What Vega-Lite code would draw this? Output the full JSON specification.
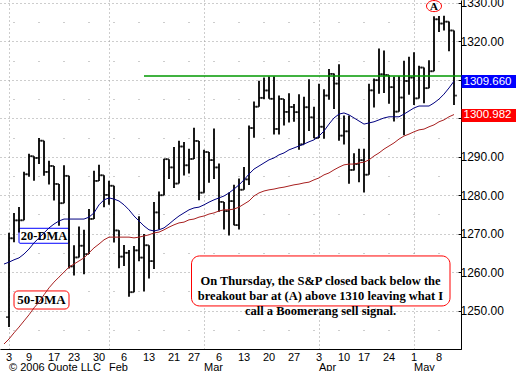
{
  "$schema": "https://vega.github.io/schema/vega-lite/v6.json",
  "autosize": {"type": "none"},
  "width": 461,
  "height": 349,
  "padding": {"left": 0, "top": 0, "right": 55, "bottom": 22},
  "background": "white",
  "config": {
    "view": {"stroke": null},
    "axis": {"labelFont": "Liberation Sans, Arial, sans-serif", "labelColor": "black", "title": null}
  },
  "datasets": {
    "px": [
      {"d":"2006-01-03","o":1248.29,"h":1270.22,"l":1245.74,"c":1268.80},
      {"d":"2006-01-04","o":1268.80,"h":1275.37,"l":1267.74,"c":1273.46},
      {"d":"2006-01-05","o":1273.46,"h":1276.91,"l":1270.30,"c":1273.48},
      {"d":"2006-01-06","o":1273.48,"h":1286.09,"l":1273.48,"c":1285.45},
      {"d":"2006-01-09","o":1285.45,"h":1290.78,"l":1284.82,"c":1290.15},
      {"d":"2006-01-10","o":1290.15,"h":1290.15,"l":1283.76,"c":1289.69},
      {"d":"2006-01-11","o":1289.69,"h":1294.90,"l":1288.12,"c":1294.18},
      {"d":"2006-01-12","o":1294.18,"h":1294.18,"l":1285.04,"c":1286.06},
      {"d":"2006-01-13","o":1286.06,"h":1288.96,"l":1282.78,"c":1287.61},
      {"d":"2006-01-17","o":1287.61,"h":1287.61,"l":1278.61,"c":1282.93},
      {"d":"2006-01-18","o":1282.93,"h":1282.93,"l":1272.08,"c":1277.93},
      {"d":"2006-01-19","o":1277.93,"h":1287.79,"l":1277.93,"c":1285.04},
      {"d":"2006-01-20","o":1285.04,"h":1285.04,"l":1260.92,"c":1261.49},
      {"d":"2006-01-23","o":1261.49,"h":1266.99,"l":1259.11,"c":1263.82},
      {"d":"2006-01-24","o":1263.82,"h":1271.87,"l":1263.82,"c":1266.86},
      {"d":"2006-01-25","o":1266.86,"h":1271.03,"l":1259.42,"c":1264.68},
      {"d":"2006-01-26","o":1264.68,"h":1276.44,"l":1264.68,"c":1273.83},
      {"d":"2006-01-27","o":1273.83,"h":1286.38,"l":1273.83,"c":1283.72},
      {"d":"2006-01-30","o":1283.72,"h":1287.90,"l":1283.72,"c":1285.19},
      {"d":"2006-01-31","o":1285.19,"h":1285.20,"l":1276.85,"c":1280.08},
      {"d":"2006-02-01","o":1280.08,"h":1283.75,"l":1277.53,"c":1282.46},
      {"d":"2006-02-02","o":1282.46,"h":1282.46,"l":1267.72,"c":1270.84},
      {"d":"2006-02-03","o":1270.84,"h":1270.87,"l":1261.02,"c":1264.03},
      {"d":"2006-02-06","o":1264.03,"h":1267.04,"l":1261.62,"c":1265.02},
      {"d":"2006-02-07","o":1265.02,"h":1265.78,"l":1253.61,"c":1254.78},
      {"d":"2006-02-08","o":1254.78,"h":1266.82,"l":1254.78,"c":1265.65},
      {"d":"2006-02-09","o":1265.65,"h":1274.56,"l":1262.80,"c":1263.78},
      {"d":"2006-02-10","o":1263.78,"h":1269.89,"l":1254.98,"c":1266.99},
      {"d":"2006-02-13","o":1266.99,"h":1266.99,"l":1258.34,"c":1262.86},
      {"d":"2006-02-14","o":1262.86,"h":1278.21,"l":1260.80,"c":1275.53},
      {"d":"2006-02-15","o":1275.53,"h":1281.00,"l":1271.06,"c":1280.00},
      {"d":"2006-02-16","o":1280.00,"h":1289.47,"l":1280.00,"c":1289.38},
      {"d":"2006-02-17","o":1289.38,"h":1289.38,"l":1284.21,"c":1287.24},
      {"d":"2006-02-21","o":1287.24,"h":1292.54,"l":1281.85,"c":1283.03},
      {"d":"2006-02-22","o":1283.03,"h":1294.17,"l":1283.03,"c":1292.67},
      {"d":"2006-02-23","o":1292.67,"h":1293.84,"l":1285.14,"c":1287.79},
      {"d":"2006-02-24","o":1287.79,"h":1292.11,"l":1285.62,"c":1289.43},
      {"d":"2006-02-27","o":1289.43,"h":1297.57,"l":1289.43,"c":1294.12},
      {"d":"2006-02-28","o":1294.12,"h":1294.12,"l":1278.66,"c":1280.66},
      {"d":"2006-03-01","o":1280.66,"h":1291.80,"l":1280.66,"c":1291.24},
      {"d":"2006-03-02","o":1291.24,"h":1291.24,"l":1283.22,"c":1289.14},
      {"d":"2006-03-03","o":1289.14,"h":1297.33,"l":1284.20,"c":1287.23},
      {"d":"2006-03-06","o":1287.23,"h":1288.22,"l":1275.67,"c":1278.26},
      {"d":"2006-03-07","o":1278.26,"h":1278.26,"l":1271.11,"c":1275.88},
      {"d":"2006-03-08","o":1275.88,"h":1280.68,"l":1269.54,"c":1278.47},
      {"d":"2006-03-09","o":1278.47,"h":1282.74,"l":1272.20,"c":1272.23},
      {"d":"2006-03-10","o":1272.23,"h":1284.37,"l":1271.11,"c":1281.42},
      {"d":"2006-03-13","o":1281.42,"h":1287.37,"l":1281.42,"c":1284.13},
      {"d":"2006-03-14","o":1284.13,"h":1298.14,"l":1282.67,"c":1297.48},
      {"d":"2006-03-15","o":1297.48,"h":1304.40,"l":1294.97,"c":1303.02},
      {"d":"2006-03-16","o":1303.02,"h":1309.79,"l":1303.02,"c":1305.33},
      {"d":"2006-03-17","o":1305.33,"h":1310.64,"l":1305.04,"c":1307.25},
      {"d":"2006-03-20","o":1307.25,"h":1310.88,"l":1305.08,"c":1305.08},
      {"d":"2006-03-21","o":1305.08,"h":1310.88,"l":1295.82,"c":1297.23},
      {"d":"2006-03-22","o":1297.23,"h":1305.97,"l":1295.81,"c":1305.04},
      {"d":"2006-03-23","o":1305.04,"h":1305.04,"l":1298.11,"c":1301.67},
      {"d":"2006-03-24","o":1301.67,"h":1306.53,"l":1298.89,"c":1302.95},
      {"d":"2006-03-27","o":1302.95,"h":1303.74,"l":1299.09,"c":1301.61},
      {"d":"2006-03-28","o":1301.61,"h":1306.24,"l":1291.84,"c":1293.23},
      {"d":"2006-03-29","o":1293.23,"h":1305.60,"l":1293.23,"c":1302.89},
      {"d":"2006-03-30","o":1302.89,"h":1310.15,"l":1296.72,"c":1300.25},
      {"d":"2006-03-31","o":1300.25,"h":1303.00,"l":1294.87,"c":1294.87},
      {"d":"2006-04-03","o":1294.87,"h":1309.02,"l":1294.87,"c":1297.81},
      {"d":"2006-04-04","o":1297.81,"h":1307.55,"l":1294.71,"c":1305.93},
      {"d":"2006-04-05","o":1305.93,"h":1312.81,"l":1304.82,"c":1311.56},
      {"d":"2006-04-06","o":1311.56,"h":1311.64,"l":1302.44,"c":1309.04},
      {"d":"2006-04-07","o":1309.04,"h":1314.07,"l":1294.18,"c":1295.50},
      {"d":"2006-04-10","o":1295.50,"h":1300.74,"l":1293.17,"c":1296.62},
      {"d":"2006-04-11","o":1296.62,"h":1300.71,"l":1282.96,"c":1286.57},
      {"d":"2006-04-12","o":1286.57,"h":1290.93,"l":1286.45,"c":1288.12},
      {"d":"2006-04-13","o":1288.12,"h":1292.09,"l":1283.37,"c":1289.12},
      {"d":"2006-04-17","o":1289.12,"h":1292.09,"l":1280.74,"c":1285.33},
      {"d":"2006-04-18","o":1285.33,"h":1309.02,"l":1285.33,"c":1307.28},
      {"d":"2006-04-19","o":1307.28,"h":1310.39,"l":1302.79,"c":1309.93},
      {"d":"2006-04-20","o":1309.93,"h":1318.16,"l":1306.38,"c":1311.46},
      {"d":"2006-04-21","o":1311.46,"h":1317.67,"l":1306.59,"c":1311.28},
      {"d":"2006-04-24","o":1311.28,"h":1311.28,"l":1303.79,"c":1308.11},
      {"d":"2006-04-25","o":1308.11,"h":1310.79,"l":1299.17,"c":1301.74},
      {"d":"2006-04-26","o":1301.74,"h":1310.97,"l":1301.74,"c":1305.41},
      {"d":"2006-04-27","o":1305.41,"h":1315.00,"l":1295.57,"c":1309.72},
      {"d":"2006-04-28","o":1309.72,"h":1316.04,"l":1306.16,"c":1310.61},
      {"d":"2006-05-01","o":1310.61,"h":1317.21,"l":1303.46,"c":1305.19},
      {"d":"2006-05-02","o":1305.19,"h":1313.66,"l":1305.19,"c":1313.21},
      {"d":"2006-05-03","o":1313.21,"h":1313.21,"l":1303.92,"c":1307.85},
      {"d":"2006-05-04","o":1307.85,"h":1315.14,"l":1307.85,"c":1312.25},
      {"d":"2006-05-05","o":1312.25,"h":1326.53,"l":1312.25,"c":1325.76},
      {"d":"2006-05-08","o":1325.76,"h":1326.60,"l":1322.48,"c":1324.66},
      {"d":"2006-05-09","o":1324.66,"h":1326.70,"l":1322.87,"c":1325.14},
      {"d":"2006-05-10","o":1325.14,"h":1325.18,"l":1317.44,"c":1322.85},
      {"d":"2006-05-11","o":1322.85,"h":1322.85,"l":1303.45,"c":1305.92}
    ],
    "ma": [
      {"d":"2005-12-30","a20":1262.1,"a50":1241.3},
      {"d":"2006-01-03","a20":1262.6,"a50":1242.6},
      {"d":"2006-01-04","a20":1263.2,"a50":1244.2},
      {"d":"2006-01-05","a20":1263.7,"a50":1245.7},
      {"d":"2006-01-06","a20":1264.7,"a50":1247.3},
      {"d":"2006-01-09","a20":1266.0,"a50":1248.9},
      {"d":"2006-01-10","a20":1267.6,"a50":1250.7},
      {"d":"2006-01-11","a20":1268.9,"a50":1252.2},
      {"d":"2006-01-12","a20":1270.2,"a50":1254.1},
      {"d":"2006-01-13","a20":1271.5,"a50":1255.9},
      {"d":"2006-01-17","a20":1272.5,"a50":1257.4},
      {"d":"2006-01-18","a20":1273.3,"a50":1258.7},
      {"d":"2006-01-19","a20":1273.8,"a50":1260.0},
      {"d":"2006-01-20","a20":1273.8,"a50":1261.3},
      {"d":"2006-01-23","a20":1273.8,"a50":1262.1},
      {"d":"2006-01-24","a20":1273.8,"a50":1262.9},
      {"d":"2006-01-25","a20":1273.8,"a50":1263.7},
      {"d":"2006-01-26","a20":1274.3,"a50":1265.0},
      {"d":"2006-01-27","a20":1275.4,"a50":1266.3},
      {"d":"2006-01-30","a20":1277.5,"a50":1267.3},
      {"d":"2006-01-31","a20":1278.8,"a50":1268.4},
      {"d":"2006-02-01","a20":1279.3,"a50":1269.1},
      {"d":"2006-02-02","a20":1279.0,"a50":1269.1},
      {"d":"2006-02-03","a20":1278.5,"a50":1269.1},
      {"d":"2006-02-06","a20":1277.5,"a50":1269.1},
      {"d":"2006-02-07","a20":1276.2,"a50":1269.1},
      {"d":"2006-02-08","a20":1274.6,"a50":1268.9},
      {"d":"2006-02-09","a20":1273.3,"a50":1269.1},
      {"d":"2006-02-10","a20":1272.0,"a50":1269.4},
      {"d":"2006-02-13","a20":1271.0,"a50":1269.7},
      {"d":"2006-02-14","a20":1270.7,"a50":1270.2},
      {"d":"2006-02-15","a20":1271.0,"a50":1270.4},
      {"d":"2006-02-16","a20":1271.5,"a50":1271.0},
      {"d":"2006-02-17","a20":1272.5,"a50":1271.7},
      {"d":"2006-02-21","a20":1273.6,"a50":1272.3},
      {"d":"2006-02-22","a20":1274.6,"a50":1272.8},
      {"d":"2006-02-23","a20":1275.4,"a50":1273.0},
      {"d":"2006-02-24","a20":1276.2,"a50":1273.6},
      {"d":"2006-02-27","a20":1276.7,"a50":1273.8},
      {"d":"2006-02-28","a20":1276.9,"a50":1274.3},
      {"d":"2006-03-01","a20":1277.5,"a50":1274.6},
      {"d":"2006-03-02","a20":1278.2,"a50":1275.1},
      {"d":"2006-03-03","a20":1278.8,"a50":1275.4},
      {"d":"2006-03-06","a20":1279.3,"a50":1275.9},
      {"d":"2006-03-07","a20":1279.8,"a50":1276.2},
      {"d":"2006-03-08","a20":1280.6,"a50":1276.2},
      {"d":"2006-03-09","a20":1281.6,"a50":1276.4},
      {"d":"2006-03-10","a20":1282.7,"a50":1276.9},
      {"d":"2006-03-13","a20":1284.0,"a50":1277.7},
      {"d":"2006-03-14","a20":1285.5,"a50":1278.5},
      {"d":"2006-03-15","a20":1286.8,"a50":1279.8},
      {"d":"2006-03-16","a20":1287.6,"a50":1280.6},
      {"d":"2006-03-17","a20":1288.4,"a50":1281.1},
      {"d":"2006-03-20","a20":1289.2,"a50":1281.4},
      {"d":"2006-03-21","a20":1289.7,"a50":1281.6},
      {"d":"2006-03-22","a20":1290.5,"a50":1281.9},
      {"d":"2006-03-23","a20":1291.0,"a50":1282.1},
      {"d":"2006-03-24","a20":1291.8,"a50":1282.4},
      {"d":"2006-03-27","a20":1292.3,"a50":1282.7},
      {"d":"2006-03-28","a20":1292.8,"a50":1282.9},
      {"d":"2006-03-29","a20":1293.3,"a50":1283.2},
      {"d":"2006-03-30","a20":1293.9,"a50":1283.4},
      {"d":"2006-03-31","a20":1294.4,"a50":1284.0},
      {"d":"2006-04-03","a20":1295.4,"a50":1284.5},
      {"d":"2006-04-04","a20":1296.7,"a50":1285.3},
      {"d":"2006-04-05","a20":1298.5,"a50":1285.8},
      {"d":"2006-04-06","a20":1300.1,"a50":1286.6},
      {"d":"2006-04-07","a20":1301.1,"a50":1287.3},
      {"d":"2006-04-10","a20":1301.4,"a50":1287.9},
      {"d":"2006-04-11","a20":1300.9,"a50":1288.1},
      {"d":"2006-04-12","a20":1300.1,"a50":1288.1},
      {"d":"2006-04-13","a20":1299.3,"a50":1288.4},
      {"d":"2006-04-17","a20":1298.5,"a50":1288.6},
      {"d":"2006-04-18","a20":1298.8,"a50":1289.2},
      {"d":"2006-04-19","a20":1299.1,"a50":1290.2},
      {"d":"2006-04-20","a20":1299.6,"a50":1291.0},
      {"d":"2006-04-21","a20":1300.1,"a50":1292.0},
      {"d":"2006-04-24","a20":1300.4,"a50":1292.8},
      {"d":"2006-04-25","a20":1300.4,"a50":1293.6},
      {"d":"2006-04-26","a20":1300.4,"a50":1294.6},
      {"d":"2006-04-27","a20":1301.1,"a50":1295.4},
      {"d":"2006-04-28","a20":1301.9,"a50":1295.9},
      {"d":"2006-05-01","a20":1302.7,"a50":1296.5},
      {"d":"2006-05-02","a20":1303.2,"a50":1297.0},
      {"d":"2006-05-03","a20":1303.2,"a50":1297.2},
      {"d":"2006-05-04","a20":1303.2,"a50":1297.8},
      {"d":"2006-05-05","a20":1304.0,"a50":1298.3},
      {"d":"2006-05-08","a20":1305.0,"a50":1299.1},
      {"d":"2006-05-09","a20":1306.3,"a50":1299.6},
      {"d":"2006-05-10","a20":1307.9,"a50":1300.4},
      {"d":"2006-05-11","a20":1309.66,"a50":1300.982}
    ]
  },
  "encoding": {
    "x": {"field": "d", "type": "ordinal", "scale": {"type": "band", "paddingInner": 0, "paddingOuter": 0.6, "align": 0.25}, "axis": null}
  },
  "layer": [
    {
      "data": {"values": [{"d": "2006-02-24", "d2": "2006-05-10", "y1": 1264.2, "y2": 1251.2}]},
      "mark": {"type": "rect", "fill": "white", "stroke": "#ff0000", "strokeWidth": 1, "cornerRadius": 8},
      "encoding": {
        "x": {"field": "d", "type": "ordinal", "bandPosition": 1, "axis": null},
        "x2": {"field": "d2", "bandPosition": 0.7},
        "y": {"field": "y1", "type": "quantitative", "scale": {"domain": [1240, 1330.78], "nice": false, "zero": false}, "axis": null},
        "y2": {"field": "y2"}
      }
    },
    {
      "data": {"values": [{"d": "2006-01-05", "d2": "2006-01-20", "y1": 1271.4, "y2": 1267.5}]},
      "mark": {"type": "rect", "fill": "white", "stroke": "#0000ff", "strokeWidth": 1, "cornerRadius": 1},
      "encoding": {
        "x2": {"field": "d2"},
        "y": {"field": "y1", "type": "quantitative", "scale": {"domain": [1240, 1330.78], "nice": false, "zero": false}, "axis": null},
        "y2": {"field": "y2"}
      }
    },
    {
      "data": {"values": [{"d": "2006-01-04", "d2": "2006-01-20", "y1": 1255.1, "y2": 1250.4}]},
      "mark": {"type": "rect", "fill": "white", "stroke": "#ff0000", "strokeWidth": 1, "cornerRadius": 4},
      "encoding": {
        "x2": {"field": "d2"},
        "y": {"field": "y1", "type": "quantitative", "scale": {"domain": [1240, 1330.78], "nice": false, "zero": false}, "axis": null},
        "y2": {"field": "y2"}
      }
    },
    {
      "data": {"values": [
        {"d": "2006-04-03", "t": "On Thursday, the S&P closed back below the\nbreakout bar at (A) above 1310 leaving what I\ncall a Boomerang sell signal.", "y": 1257.7}
      ]},
      "mark": {"type": "text", "font": "Liberation Serif", "fontWeight": "bold", "fontSize": 12.5, "lineHeight": 15, "lineBreak": "\n", "align": "center", "baseline": "middle", "dx": 1.5, "color": "black"},
      "encoding": {
        "y": {"field": "y", "type": "quantitative", "scale": {"domain": [1240, 1330.78], "nice": false, "zero": false}, "axis": null},
        "text": {"field": "t"}
      }
    },
    {
      "data": {"values": [{"d": "2006-01-12", "t": "20-DMA", "y": 1269.4}]},
      "mark": {"type": "text", "font": "Liberation Serif", "fontWeight": "bold", "fontSize": 12.5, "align": "center", "baseline": "middle", "color": "black"},
      "encoding": {
        "y": {"field": "y", "type": "quantitative", "scale": {"domain": [1240, 1330.78], "nice": false, "zero": false}, "axis": null},
        "text": {"field": "t"}
      }
    },
    {
      "data": {"values": [{"d": "2006-01-11", "t": "50-DMA", "y": 1252.8}]},
      "mark": {"type": "text", "font": "Liberation Serif", "fontWeight": "bold", "fontSize": 13, "align": "center", "baseline": "middle", "color": "black"},
      "encoding": {
        "x": {"field": "d", "type": "ordinal", "bandPosition": 1, "axis": null},
        "y": {"field": "y", "type": "quantitative", "scale": {"domain": [1240, 1330.78], "nice": false, "zero": false}, "axis": null},
        "text": {"field": "t"}
      }
    },
    {
      "data": {"name": "px"},
      "mark": {"type": "rule", "color": "black", "strokeWidth": 1.8},
      "encoding": {
        "x": {"field": "d", "type": "ordinal", "axis": {
          "orient": "bottom", "bandPosition": 0.5, "grid": false, "ticks": false, "domain": true, "domainColor": "black", "domainWidth": 1,
          "labelPadding": 2, "labelFontSize": 11, "labelOverlap": false, "labelFlush": false, "labelAngle": 0,
          "values": ["2006-01-03","2006-01-09","2006-01-17","2006-01-23","2006-01-30","2006-02-06","2006-02-13","2006-02-21","2006-02-27","2006-03-06","2006-03-13","2006-03-20","2006-03-27","2006-04-03","2006-04-10","2006-04-17","2006-04-24","2006-05-01","2006-05-08"],
          "labelExpr": "toNumber(slice(datum.value, 8))"
        }},
        "y": {"field": "l", "type": "quantitative", "scale": {"domain": [1240, 1330.78], "nice": false, "zero": false}, "axis": {
          "orient": "right", "values": [1240,1250,1260,1270,1280,1290,1300,1310,1320,1330],
          "grid": true, "gridDash": [1, 3], "gridColor": "#9a9a9a", "domain": true, "domainColor": "black", "domainWidth": 1,
          "ticks": true, "tickSize": -3, "tickColor": "black", "labelPadding": 2, "labelFontSize": 12, "labelAlign": "left", "labelBaseline": "middle",
          "labelOverlap": false, "labelFlush": false,
          "labelExpr": "datum.value == 1300 || datum.value == 1310 || datum.value == 1240 ? '' : format(datum.value, '.2f')"
        }},
        "y2": {"field": "h"}
      }
    },
    {
      "data": {"name": "px"},
      "mark": {"type": "tick", "orient": "horizontal", "color": "black", "size": 3, "thickness": 1.8, "xOffset": -1.5},
      "encoding": {
        "y": {"field": "o", "type": "quantitative", "scale": {"domain": [1240, 1330.78], "nice": false, "zero": false}, "axis": null}
      }
    },
    {
      "data": {"name": "px"},
      "mark": {"type": "tick", "orient": "horizontal", "color": "black", "size": 3, "thickness": 1.8, "xOffset": 1.5},
      "encoding": {
        "y": {"field": "c", "type": "quantitative", "scale": {"domain": [1240, 1330.78], "nice": false, "zero": false}, "axis": null}
      }
    },
    {
      "data": {"name": "ma"},
      "mark": {"type": "line", "color": "#000080", "strokeWidth": 1},
      "encoding": {
        "x": {"field": "d", "type": "ordinal", "axis": {
          "orient": "bottom", "bandPosition": 0.5, "grid": true, "gridDash": [1, 3], "gridColor": "#9a9a9a", "ticks": false, "domain": false,
          "labelPadding": 21, "labelBaseline": "alphabetic", "labelFontSize": 11, "labelAlign": "left", "labelOverlap": false, "labelFlush": false, "labelAngle": 0,
          "values": ["2006-01-03","2006-02-01","2006-03-01","2006-04-03","2006-05-01"],
          "labelExpr": "datum.value == '2006-01-03' ? '© 2006 Quote LLC' : ['Jan','Feb','Mar','Apr','May'][toNumber(slice(datum.value, 5, 7)) - 1]"
        }},
        "y": {"field": "a20", "type": "quantitative", "scale": {"domain": [1240, 1330.78], "nice": false, "zero": false}, "axis": {
          "orient": "right", "values": [1245,1255,1265,1275,1285,1295,1305,1315,1325],
          "grid": true, "gridDash": [1, 24], "gridDashOffset": 3, "gridColor": "#9a9a9a", "domain": false, "ticks": false, "labels": false
        }}
      }
    },
    {
      "data": {"name": "ma"},
      "mark": {"type": "line", "color": "#a82020", "strokeWidth": 1},
      "encoding": {
        "y": {"field": "a50", "type": "quantitative", "scale": {"domain": [1240, 1330.78], "nice": false, "zero": false}, "axis": {
          "orient": "right", "values": [1309.66, 1300.982], "format": ".3f",
          "grid": false, "domain": false, "ticks": true, "tickSize": 55, "tickWidth": 13,
          "tickColor": {"condition": {"test": "datum.value > 1305", "value": "#0000ff"}, "value": "#ff0000"},
          "labelPadding": -53, "labelAlign": "left", "labelBaseline": "middle", "labelColor": "white", "labelFontSize": 11.5,
          "labelOverlap": false, "labelFlush": false
        }}
      }
    },
    {
      "data": {"values": [{"d": "2006-02-10", "y": 1311.0}]},
      "mark": {"type": "rule", "color": "#009900", "strokeWidth": 1.5},
      "encoding": {
        "x2": {"value": "width"},
        "y": {"field": "y", "type": "quantitative", "scale": {"domain": [1240, 1330.78], "nice": false, "zero": false}, "axis": null}
      }
    },
    {
      "data": {"values": [{"d": "2006-05-05", "y": 1329.2, "t": "A"}]},
      "mark": {"type": "point", "shape": "M-1.35,0A1.35,1,0,1,1,1.35,0A1.35,1,0,1,1,-1.35,0Z", "size": 123, "filled": false, "stroke": "#ff0000", "strokeWidth": 1, "opacity": 1},
      "encoding": {
        "y": {"field": "y", "type": "quantitative", "scale": {"domain": [1240, 1330.78], "nice": false, "zero": false}, "axis": null}
      }
    },
    {
      "data": {"values": [{"d": "2006-05-05", "y": 1329.2, "t": "A"}]},
      "mark": {"type": "text", "font": "Liberation Serif", "fontWeight": "bold", "fontSize": 11, "align": "center", "baseline": "middle", "dy": 0.5, "color": "black"},
      "encoding": {
        "y": {"field": "y", "type": "quantitative", "scale": {"domain": [1240, 1330.78], "nice": false, "zero": false}, "axis": null},
        "text": {"field": "t"}
      }
    }
  ],
  "resolve": {"axis": {"x": "independent", "y": "independent"}}
}
